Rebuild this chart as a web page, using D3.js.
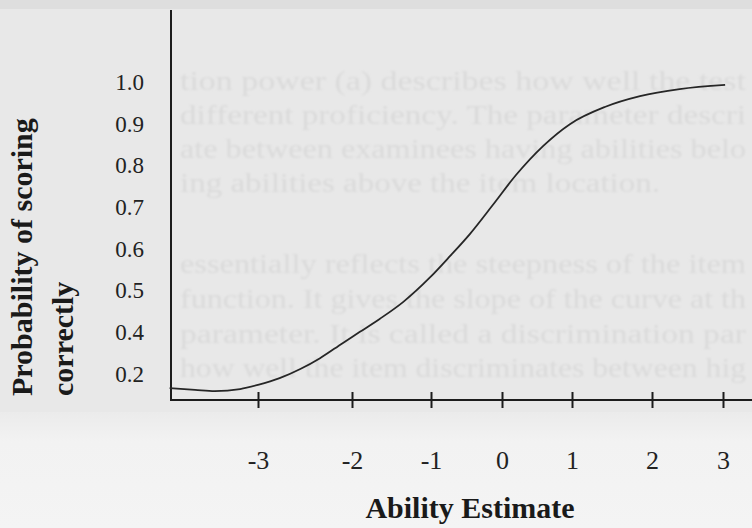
<!DOCTYPE html>
<html>
<head>
<meta charset="utf-8">
<script src="https://cdn.jsdelivr.net/npm/d3@7"></script>
<style>
  html, body { margin: 0; padding: 0; background: #e8e8e8; }
  svg { display: block; }
</style>
</head>
<body>
<div id="chart"></div>
<script>
// tick labels as printed (0.3 is missing in the original)
const xTicks = [-3, -2, -1, 0, 1, 2, 3];
const yTickLabels = ["1.0", "0.9", "0.8", "0.7", "0.6", "0.5", "0.4", "0.2"];

// item characteristic curve
const ability = [-3.94, -3.67, -3.46, -3.19, -3.00, -2.77, -2.55, -2.34, -2.10, -1.90, -1.65, -1.35,
                 -1.01, -0.73, -0.45, -0.13, 0.20, 0.59, 0.97, 1.41, 1.85, 2.39, 3.03];
const prob = [0.266, 0.262, 0.259, 0.264, 0.274, 0.290, 0.312, 0.338, 0.374, 0.401, 0.432, 0.473,
              0.532, 0.583, 0.636, 0.705, 0.777, 0.847, 0.899, 0.940, 0.966, 0.983, 0.993];

// text showing through from the back of the scanned page (only the part inside the plot)
const bleedLines = [
  { y: 80,  text: "tion power (a)  describes how well the test" },
  { y: 114, text: "different proficiency.  The parameter descri" },
  { y: 148, text: "ate between examinees having abilities belo" },
  { y: 182, text: "ing abilities above the item location." },
  { y: 263, text: "essentially reflects the steepness of the item" },
  { y: 298, text: "function. It gives the slope of the curve at th" },
  { y: 333, text: "parameter.  It is called a discrimination par" },
  { y: 367, text: "how well the item discriminates between hig" }
];

const width = 752, height = 528;
const axisX = 171, axisY = 400, axisTop = 10;

const svg = d3.select("#chart").append("svg")
    .attr("width", width)
    .attr("height", height)
    .attr("viewBox", `0 0 ${width} ${height}`);

const defs = svg.append("defs");
defs.append("filter").attr("id", "soft")
  .append("feGaussianBlur").attr("stdDeviation", 1);
const grad = defs.append("linearGradient").attr("id", "paper")
    .attr("x1", 0).attr("y1", 0).attr("x2", 0).attr("y2", 1);
grad.append("stop").attr("offset", "0%").attr("stop-color", "#ebebeb");
grad.append("stop").attr("offset", "25%").attr("stop-color", "#f2f2f2");
grad.append("stop").attr("offset", "100%").attr("stop-color", "#f4f4f4");

// paper
svg.append("rect").attr("width", width).attr("height", height).attr("fill", "#e8e8e8");
svg.append("rect").attr("width", width).attr("height", 9).attr("fill", "#dedede");

// show-through text, very faint
svg.append("g")
    .attr("filter", "url(#soft)")
  .selectAll("text")
  .data(bleedLines)
  .join("text")
    .attr("x", 180)
    .attr("y", d => d.y + 10)
    .attr("font-family", "'Liberation Serif', serif")
    .attr("font-size", 28)
    .attr("fill", "#dadada")
    .attr("textLength", d => d.text.length > 40 ? 566 : 480)
    .attr("lengthAdjust", "spacingAndGlyphs")
    .text(d => d.text);

svg.append("rect")
    .attr("y", 412).attr("width", width).attr("height", height - 412)
    .attr("fill", "url(#paper)");

// scales (the printed ticks are unevenly spaced)
const x = d3.scaleLinear()
    .domain(xTicks)
    .range([258, 352, 431, 502, 572, 652, 723]);
const y = d3.scaleLinear()
    .domain([0.3, 1.0])
    .range([374, 82]);
const yLab = d3.scalePoint()
    .domain(yTickLabels)
    .range([y(1.0), y(0.3)]);

// axes lines
svg.append("line")
    .attr("x1", axisX).attr("x2", axisX)
    .attr("y1", axisTop).attr("y2", axisY)
    .attr("stroke", "#1c1c1c").attr("stroke-width", 2);
svg.append("line")
    .attr("x1", axisX - 1).attr("x2", width)
    .attr("y1", axisY).attr("y2", axisY)
    .attr("stroke", "#1c1c1c").attr("stroke-width", 2);

// x axis ticks and labels
const gx = svg.append("g")
    .attr("transform", `translate(0,${axisY})`)
    .call(d3.axisBottom(x).tickValues(xTicks).tickSize(8).tickFormat(d3.format("d")));
gx.select(".domain").remove();
gx.selectAll(".tick line")
    .attr("y1", -8).attr("y2", 8)
    .attr("stroke", "#1c1c1c").attr("stroke-width", 2);
gx.selectAll(".tick text")
    .attr("y", 69).attr("dy", null)
    .attr("font-family", "'Liberation Serif', serif")
    .attr("font-size", 26)
    .attr("fill", "#222")
    .text(d => d < 0 ? "-" + Math.abs(d) : d);

// y axis labels
const gy = svg.append("g")
    .attr("transform", `translate(${axisX},0)`)
    .call(d3.axisLeft(yLab).tickSize(0).tickPadding(27));
gy.select(".domain").remove();
gy.selectAll(".tick text")
    .attr("font-family", "'Liberation Serif', serif")
    .attr("font-size", 23)
    .attr("fill", "#222");

// curve
const pts = ability.map((a, i) => [a, prob[i]]);
svg.append("path")
    .datum(pts)
    .attr("fill", "none")
    .attr("stroke", "#262626")
    .attr("stroke-width", 1.8)
    .attr("d", d3.line()
        .x(d => x(d[0]))
        .y(d => y(d[1]))
        .curve(d3.curveMonotoneX));

// axis titles
const ytitle = svg.append("g")
    .attr("font-family", "'Liberation Serif', serif")
    .attr("font-weight", "bold")
    .attr("font-size", 30)
    .attr("fill", "#1a1a1a");
ytitle.append("text")
    .attr("transform", "translate(32,396) rotate(-90)")
    .text("Probability of scoring");
ytitle.append("text")
    .attr("transform", "translate(73,396) rotate(-90)")
    .text("correctly");

svg.append("text")
    .attr("x", 470)
    .attr("y", 518)
    .attr("text-anchor", "middle")
    .attr("font-family", "'Liberation Serif', serif")
    .attr("font-weight", "bold")
    .attr("font-size", 30)
    .attr("fill", "#1a1a1a")
    .text("Ability Estimate");
</script>
</body>
</html>
